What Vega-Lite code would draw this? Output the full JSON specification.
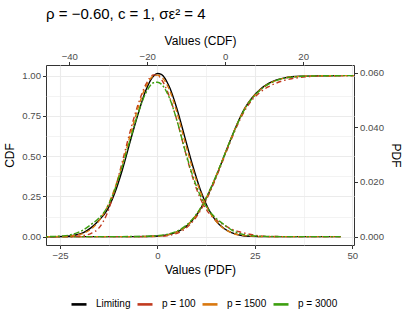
{
  "$schema": "https://vega.github.io/schema/vega-lite/v6.json",
  "width": 308,
  "height": 180,
  "autosize": {"type": "none"},
  "padding": {"left": 46, "top": 65, "right": 53, "bottom": 81},
  "background": "white",
  "title": {"text": "ρ = −0.60, c = 1, σε² = 4", "anchor": "start", "frame": "group", "fontSize": 15, "font": "Liberation Sans", "fontWeight": "normal", "color": "black", "offset": 13},
  "config": {
    "view": {"stroke": "#333333", "strokeWidth": 1},
    "axis": {"labelFont": "Liberation Sans", "labelFontSize": 9.6, "labelColor": "#4d4d4d", "tickColor": "#333333", "tickSize": 3.5, "domain": false, "titleFont": "Liberation Sans", "titleFontSize": 12, "titleFontWeight": "normal", "titleColor": "black", "labelPadding": 2, "gridColor": "#ebebeb"},
    "legend": {"labelFont": "Liberation Sans", "labelFontSize": 10, "labelColor": "black"},
    "line": {"interpolate": "monotone", "clip": true}
  },
  "datasets": {
    "pdf": [
      {"s": "Limiting", "x": -28.6, "y": 0}, {"s": "Limiting", "x": -24, "y": 0.0001}, {"s": "Limiting", "x": -21, "y": 0.0006}, {"s": "Limiting", "x": -19, "y": 0.0015}, {"s": "Limiting", "x": -17, "y": 0.0033}, {"s": "Limiting", "x": -15, "y": 0.006}, {"s": "Limiting", "x": -13, "y": 0.0095}, {"s": "Limiting", "x": -11, "y": 0.0158}, {"s": "Limiting", "x": -9, "y": 0.0245}, {"s": "Limiting", "x": -7, "y": 0.0348}, {"s": "Limiting", "x": -5, "y": 0.0448}, {"s": "Limiting", "x": -3, "y": 0.0535}, {"s": "Limiting", "x": -1, "y": 0.0588}, {"s": "Limiting", "x": 0, "y": 0.0597}, {"s": "Limiting", "x": 1, "y": 0.0594}, {"s": "Limiting", "x": 3, "y": 0.055}, {"s": "Limiting", "x": 5, "y": 0.0468}, {"s": "Limiting", "x": 7, "y": 0.0365}, {"s": "Limiting", "x": 9, "y": 0.0262}, {"s": "Limiting", "x": 11, "y": 0.0172}, {"s": "Limiting", "x": 13, "y": 0.0104}, {"s": "Limiting", "x": 15, "y": 0.0058}, {"s": "Limiting", "x": 17, "y": 0.0031}, {"s": "Limiting", "x": 19, "y": 0.0015}, {"s": "Limiting", "x": 21, "y": 0.0006}, {"s": "Limiting", "x": 24, "y": 0.0001}, {"s": "Limiting", "x": 28, "y": 0}, {"s": "Limiting", "x": 35, "y": 0}, {"s": "Limiting", "x": 47, "y": 0},
      {"s": "p = 100", "x": -28.6, "y": 0}, {"s": "p = 100", "x": -24, "y": 0}, {"s": "p = 100", "x": -21, "y": 0.0001}, {"s": "p = 100", "x": -19, "y": 0.0004}, {"s": "p = 100", "x": -17, "y": 0.0012}, {"s": "p = 100", "x": -15, "y": 0.0032}, {"s": "p = 100", "x": -13, "y": 0.0082}, {"s": "p = 100", "x": -11, "y": 0.0168}, {"s": "p = 100", "x": -9, "y": 0.0275}, {"s": "p = 100", "x": -7, "y": 0.0385}, {"s": "p = 100", "x": -5, "y": 0.0482}, {"s": "p = 100", "x": -3, "y": 0.0556}, {"s": "p = 100", "x": -1, "y": 0.0592}, {"s": "p = 100", "x": 0, "y": 0.059}, {"s": "p = 100", "x": 1, "y": 0.0576}, {"s": "p = 100", "x": 3, "y": 0.0515}, {"s": "p = 100", "x": 5, "y": 0.0425}, {"s": "p = 100", "x": 7, "y": 0.0318}, {"s": "p = 100", "x": 9, "y": 0.0218}, {"s": "p = 100", "x": 11, "y": 0.014}, {"s": "p = 100", "x": 13, "y": 0.009}, {"s": "p = 100", "x": 15, "y": 0.0062}, {"s": "p = 100", "x": 17, "y": 0.0043}, {"s": "p = 100", "x": 19, "y": 0.0028}, {"s": "p = 100", "x": 21, "y": 0.0018}, {"s": "p = 100", "x": 24, "y": 0.0008}, {"s": "p = 100", "x": 28, "y": 0.0001}, {"s": "p = 100", "x": 35, "y": 0}, {"s": "p = 100", "x": 47, "y": 0},
      {"s": "p = 1500", "x": -28.6, "y": 0}, {"s": "p = 1500", "x": -24, "y": 0.0001}, {"s": "p = 1500", "x": -21, "y": 0.0005}, {"s": "p = 1500", "x": -19, "y": 0.0012}, {"s": "p = 1500", "x": -17, "y": 0.0028}, {"s": "p = 1500", "x": -15, "y": 0.0058}, {"s": "p = 1500", "x": -13, "y": 0.0105}, {"s": "p = 1500", "x": -11, "y": 0.0175}, {"s": "p = 1500", "x": -9, "y": 0.0265}, {"s": "p = 1500", "x": -7, "y": 0.037}, {"s": "p = 1500", "x": -5, "y": 0.047}, {"s": "p = 1500", "x": -3, "y": 0.0548}, {"s": "p = 1500", "x": -1, "y": 0.0588}, {"s": "p = 1500", "x": 0, "y": 0.0591}, {"s": "p = 1500", "x": 1, "y": 0.0585}, {"s": "p = 1500", "x": 3, "y": 0.054}, {"s": "p = 1500", "x": 5, "y": 0.0455}, {"s": "p = 1500", "x": 7, "y": 0.035}, {"s": "p = 1500", "x": 9, "y": 0.025}, {"s": "p = 1500", "x": 11, "y": 0.0165}, {"s": "p = 1500", "x": 13, "y": 0.01}, {"s": "p = 1500", "x": 15, "y": 0.0057}, {"s": "p = 1500", "x": 17, "y": 0.003}, {"s": "p = 1500", "x": 19, "y": 0.0014}, {"s": "p = 1500", "x": 21, "y": 0.0006}, {"s": "p = 1500", "x": 24, "y": 0.0002}, {"s": "p = 1500", "x": 28, "y": 0}, {"s": "p = 1500", "x": 35, "y": 0}, {"s": "p = 1500", "x": 47, "y": 0},
      {"s": "p = 3000", "x": -28.6, "y": 0}, {"s": "p = 3000", "x": -24, "y": 0.0003}, {"s": "p = 3000", "x": -21, "y": 0.0012}, {"s": "p = 3000", "x": -19, "y": 0.0025}, {"s": "p = 3000", "x": -17, "y": 0.0045}, {"s": "p = 3000", "x": -15, "y": 0.0068}, {"s": "p = 3000", "x": -13, "y": 0.0105}, {"s": "p = 3000", "x": -11, "y": 0.017}, {"s": "p = 3000", "x": -9, "y": 0.0258}, {"s": "p = 3000", "x": -7, "y": 0.0355}, {"s": "p = 3000", "x": -5, "y": 0.045}, {"s": "p = 3000", "x": -3, "y": 0.0525}, {"s": "p = 3000", "x": -1, "y": 0.0563}, {"s": "p = 3000", "x": 0, "y": 0.0565}, {"s": "p = 3000", "x": 1, "y": 0.0558}, {"s": "p = 3000", "x": 3, "y": 0.051}, {"s": "p = 3000", "x": 5, "y": 0.0425}, {"s": "p = 3000", "x": 7, "y": 0.032}, {"s": "p = 3000", "x": 9, "y": 0.0225}, {"s": "p = 3000", "x": 11, "y": 0.015}, {"s": "p = 3000", "x": 13, "y": 0.01}, {"s": "p = 3000", "x": 15, "y": 0.0068}, {"s": "p = 3000", "x": 17, "y": 0.0045}, {"s": "p = 3000", "x": 19, "y": 0.0025}, {"s": "p = 3000", "x": 21, "y": 0.0012}, {"s": "p = 3000", "x": 24, "y": 0.0004}, {"s": "p = 3000", "x": 28, "y": 0.0001}, {"s": "p = 3000", "x": 35, "y": 0}, {"s": "p = 3000", "x": 47, "y": 0}
    ],
    "cdf": [
      {"s": "Limiting", "x": -45.97, "y": 0}, {"s": "Limiting", "x": -30, "y": 0}, {"s": "Limiting", "x": -24, "y": 0.0002}, {"s": "Limiting", "x": -20, "y": 0.0012}, {"s": "Limiting", "x": -17, "y": 0.0045}, {"s": "Limiting", "x": -15, "y": 0.0105}, {"s": "Limiting", "x": -13, "y": 0.0235}, {"s": "Limiting", "x": -11, "y": 0.047}, {"s": "Limiting", "x": -9, "y": 0.087}, {"s": "Limiting", "x": -7, "y": 0.147}, {"s": "Limiting", "x": -5, "y": 0.232}, {"s": "Limiting", "x": -3, "y": 0.337}, {"s": "Limiting", "x": -1, "y": 0.456}, {"s": "Limiting", "x": 1, "y": 0.58}, {"s": "Limiting", "x": 3, "y": 0.697}, {"s": "Limiting", "x": 5, "y": 0.797}, {"s": "Limiting", "x": 7, "y": 0.866}, {"s": "Limiting", "x": 9, "y": 0.915}, {"s": "Limiting", "x": 11, "y": 0.95}, {"s": "Limiting", "x": 13, "y": 0.972}, {"s": "Limiting", "x": 15, "y": 0.985}, {"s": "Limiting", "x": 17, "y": 0.993}, {"s": "Limiting", "x": 20, "y": 0.997}, {"s": "Limiting", "x": 24, "y": 0.999}, {"s": "Limiting", "x": 29.6, "y": 1},
      {"s": "p = 100", "x": -45.97, "y": 0}, {"s": "p = 100", "x": -30, "y": 0}, {"s": "p = 100", "x": -24, "y": 0}, {"s": "p = 100", "x": -20, "y": 0.0004}, {"s": "p = 100", "x": -17, "y": 0.002}, {"s": "p = 100", "x": -15, "y": 0.006}, {"s": "p = 100", "x": -13, "y": 0.016}, {"s": "p = 100", "x": -11, "y": 0.037}, {"s": "p = 100", "x": -9, "y": 0.076}, {"s": "p = 100", "x": -7, "y": 0.137}, {"s": "p = 100", "x": -5, "y": 0.222}, {"s": "p = 100", "x": -3, "y": 0.328}, {"s": "p = 100", "x": -1, "y": 0.448}, {"s": "p = 100", "x": 1, "y": 0.57}, {"s": "p = 100", "x": 3, "y": 0.686}, {"s": "p = 100", "x": 5, "y": 0.783}, {"s": "p = 100", "x": 7, "y": 0.852}, {"s": "p = 100", "x": 9, "y": 0.898}, {"s": "p = 100", "x": 11, "y": 0.93}, {"s": "p = 100", "x": 13, "y": 0.953}, {"s": "p = 100", "x": 15, "y": 0.97}, {"s": "p = 100", "x": 17, "y": 0.981}, {"s": "p = 100", "x": 20, "y": 0.991}, {"s": "p = 100", "x": 24, "y": 0.997}, {"s": "p = 100", "x": 29.6, "y": 0.999}, {"s": "p = 100", "x": 33.03, "y": 1},
      {"s": "p = 1500", "x": -45.97, "y": 0}, {"s": "p = 1500", "x": -30, "y": 0}, {"s": "p = 1500", "x": -24, "y": 0.0002}, {"s": "p = 1500", "x": -20, "y": 0.0012}, {"s": "p = 1500", "x": -17, "y": 0.004}, {"s": "p = 1500", "x": -15, "y": 0.01}, {"s": "p = 1500", "x": -13, "y": 0.023}, {"s": "p = 1500", "x": -11, "y": 0.047}, {"s": "p = 1500", "x": -9, "y": 0.088}, {"s": "p = 1500", "x": -7, "y": 0.149}, {"s": "p = 1500", "x": -5, "y": 0.234}, {"s": "p = 1500", "x": -3, "y": 0.339}, {"s": "p = 1500", "x": -1, "y": 0.457}, {"s": "p = 1500", "x": 1, "y": 0.58}, {"s": "p = 1500", "x": 3, "y": 0.696}, {"s": "p = 1500", "x": 5, "y": 0.795}, {"s": "p = 1500", "x": 7, "y": 0.864}, {"s": "p = 1500", "x": 9, "y": 0.913}, {"s": "p = 1500", "x": 11, "y": 0.948}, {"s": "p = 1500", "x": 13, "y": 0.97}, {"s": "p = 1500", "x": 15, "y": 0.984}, {"s": "p = 1500", "x": 17, "y": 0.992}, {"s": "p = 1500", "x": 20, "y": 0.997}, {"s": "p = 1500", "x": 24, "y": 0.999}, {"s": "p = 1500", "x": 29.6, "y": 1}, {"s": "p = 1500", "x": 33.03, "y": 1},
      {"s": "p = 3000", "x": -45.97, "y": 0}, {"s": "p = 3000", "x": -30, "y": 0.0002}, {"s": "p = 3000", "x": -24, "y": 0.0008}, {"s": "p = 3000", "x": -20, "y": 0.0025}, {"s": "p = 3000", "x": -17, "y": 0.007}, {"s": "p = 3000", "x": -15, "y": 0.014}, {"s": "p = 3000", "x": -13, "y": 0.028}, {"s": "p = 3000", "x": -11, "y": 0.053}, {"s": "p = 3000", "x": -9, "y": 0.093}, {"s": "p = 3000", "x": -7, "y": 0.153}, {"s": "p = 3000", "x": -5, "y": 0.237}, {"s": "p = 3000", "x": -3, "y": 0.341}, {"s": "p = 3000", "x": -1, "y": 0.458}, {"s": "p = 3000", "x": 1, "y": 0.579}, {"s": "p = 3000", "x": 3, "y": 0.694}, {"s": "p = 3000", "x": 5, "y": 0.792}, {"s": "p = 3000", "x": 7, "y": 0.862}, {"s": "p = 3000", "x": 9, "y": 0.911}, {"s": "p = 3000", "x": 11, "y": 0.946}, {"s": "p = 3000", "x": 13, "y": 0.969}, {"s": "p = 3000", "x": 15, "y": 0.983}, {"s": "p = 3000", "x": 17, "y": 0.991}, {"s": "p = 3000", "x": 20, "y": 0.996}, {"s": "p = 3000", "x": 24, "y": 0.999}, {"s": "p = 3000", "x": 29.6, "y": 1}, {"s": "p = 3000", "x": 33.03, "y": 1}
    ]
  },
  "layer": [
    {
      "data": {"name": "cdf"},
      "encoding": {
        "x": {"field": "x", "type": "quantitative", "scale": {"domain": [-45.97, 33.03], "nice": false, "zero": false},
              "axis": {"orient": "top", "title": "Values (CDF)", "values": [-40, -20, 0, 20], "grid": false, "labelPadding": 0, "titlePadding": 4}},
        "y": {"field": "y", "type": "quantitative", "scale": {"domain": [-0.0518, 1.0663], "nice": false, "zero": false},
              "axis": {"orient": "left", "title": "CDF", "values": [0, 0.125, 0.25, 0.375, 0.5, 0.625, 0.75, 0.875, 1],
                       "labelExpr": "datum.value % 0.25 === 0 ? format(datum.value, '.2f') : ''",
                       "tickOpacity": {"condition": {"test": "datum.value % 0.25 !== 0", "value": 0}, "value": 1},
                       "grid": true,
                       "gridWidth": {"condition": {"test": "datum.value % 0.25 !== 0", "value": 0.6}, "value": 1.1},
                       "titlePadding": 5}},
        "color": {"field": "s", "type": "nominal",
                  "scale": {"domain": ["Limiting", "p = 100", "p = 1500", "p = 3000"], "range": ["#000000", "#c13a1f", "#d9780f", "#3d9f0f"]},
                  "legend": {"title": null, "orient": "none", "legendX": 24, "legendY": 230, "direction": "horizontal", "symbolType": "stroke", "symbolSize": 225, "symbolStrokeWidth": 2.6, "labelOffset": 8, "columnPadding": 1}}
      },
      "layer": [
        {"transform": [{"filter": "datum.s === 'none'"}], "mark": {"type": "line", "strokeWidth": 2.6}},
        {"transform": [{"filter": "datum.s === 'Limiting'"}], "mark": {"type": "line", "strokeWidth": 1.4}},
        {"transform": [{"filter": "datum.s === 'p = 100'"}], "mark": {"type": "line", "strokeWidth": 1.4, "strokeDash": [1.5, 3, 5, 3]}},
        {"transform": [{"filter": "datum.s === 'p = 1500'"}], "mark": {"type": "line", "strokeWidth": 1.4, "strokeDash": [5, 3]}},
        {"transform": [{"filter": "datum.s === 'p = 3000'"}], "mark": {"type": "line", "strokeWidth": 1.4, "strokeDash": [2, 2, 6, 2]}}
      ]
    },
    {
      "data": {"name": "pdf"},
      "encoding": {
        "x": {"field": "x", "type": "quantitative", "scale": {"domain": [-28.6, 50.44], "nice": false, "zero": false},
              "axis": {"orient": "bottom", "title": "Values (PDF)", "values": [-25, -12.5, 0, 12.5, 25, 37.5, 50],
                       "labelExpr": "datum.value % 25 === 0 ? format(datum.value, 'd') : ''",
                       "tickOpacity": {"condition": {"test": "datum.value % 25 !== 0", "value": 0}, "value": 1},
                       "grid": true,
                       "gridWidth": {"condition": {"test": "datum.value % 25 !== 0", "value": 0.6}, "value": 1.1},
                       "titlePadding": 4}},
        "y": {"field": "y", "type": "quantitative", "scale": {"domain": [-0.00305, 0.0628], "nice": false, "zero": false},
              "axis": {"orient": "right", "title": "PDF", "values": [0, 0.02, 0.04, 0.06], "format": ".3f", "grid": false, "titlePadding": 5}},
        "color": {"field": "s", "type": "nominal",
                  "scale": {"domain": ["Limiting", "p = 100", "p = 1500", "p = 3000"], "range": ["#000000", "#c13a1f", "#d9780f", "#3d9f0f"]}}
      },
      "layer": [
        {"transform": [{"filter": "datum.s === 'Limiting'"}], "mark": {"type": "line", "strokeWidth": 1.4}},
        {"transform": [{"filter": "datum.s === 'p = 100'"}], "mark": {"type": "line", "strokeWidth": 1.4, "strokeDash": [1.5, 3, 5, 3]}},
        {"transform": [{"filter": "datum.s === 'p = 1500'"}], "mark": {"type": "line", "strokeWidth": 1.4, "strokeDash": [5, 3]}},
        {"transform": [{"filter": "datum.s === 'p = 3000'"}], "mark": {"type": "line", "strokeWidth": 1.4, "strokeDash": [2, 2, 6, 2]}}
      ]
    }
  ],
  "resolve": {"scale": {"x": "independent", "y": "independent"}}
}
